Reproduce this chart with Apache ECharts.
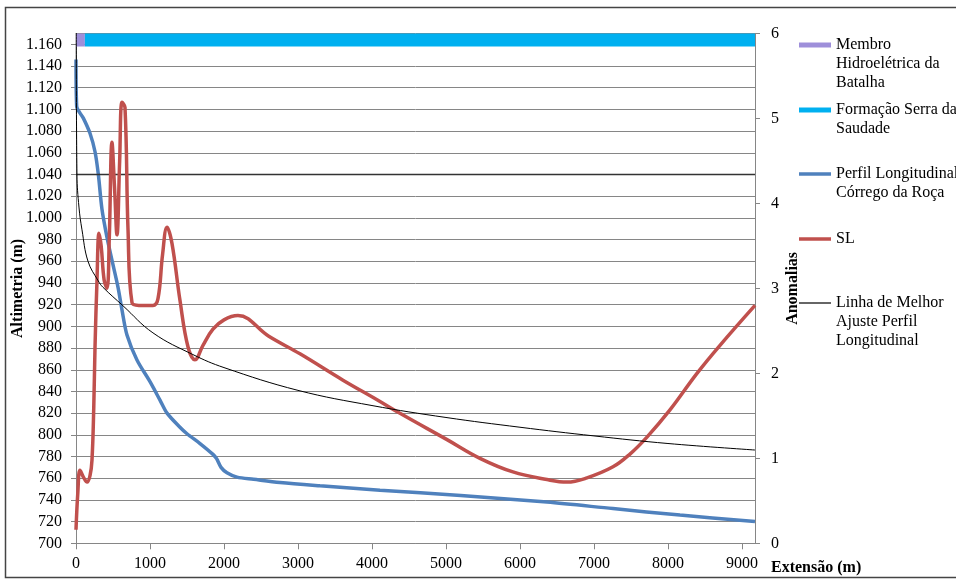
<!DOCTYPE html>
<html>
<head>
<meta charset="utf-8">
<script src="https://cdn.jsdelivr.net/npm/echarts@6/dist/echarts.min.js"></script>
<style>
  html, body { margin: 0; padding: 0; background: #fff; }
  #chart { width: 956px; height: 579px; }
</style>
</head>
<body>
<div id="chart"></div>
<script>
// Distance along the stream (m) and altitude (m) of the longitudinal profile
const perfilX = [0, 9, 99, 189, 257, 302, 351, 419, 486, 568, 622, 689, 824, 1000, 1135, 1230, 1405, 1500, 1676, 1851, 1900, 1960, 2040, 2176, 2400, 2757, 3297, 4108, 5200, 6365, 7257, 8162, 9176];
const perfilY = [1146, 1103, 1092, 1078, 1061, 1040, 1008, 982, 961, 936, 915, 892, 869, 849, 832, 820, 807, 801, 792, 782, 778, 770, 765, 761, 759, 756, 753, 749, 744, 738, 732, 726, 720];

// SL index (anomalies, right axis)
const slX = [0, 25, 54, 100, 149, 190, 216, 240, 257, 284, 311, 340, 380, 419, 450, 486, 520, 554, 590, 622, 662, 703, 757, 850, 1040, 1108, 1170, 1230, 1297, 1405, 1514, 1608, 1716, 1851, 2000, 2189, 2600, 3027, 3608, 4068, 4378, 5014, 5459, 5905, 6365, 6635, 6905, 7257, 7486, 7716, 8027, 8392, 8703, 9176];
const slY = [0.16, 0.6, 0.86, 0.78, 0.72, 0.8, 0.98, 1.6, 2.31, 3.1, 3.65, 3.5, 3.1, 3.0, 3.6, 4.72, 4.2, 3.63, 4.5, 5.19, 5.13, 3.69, 2.83, 2.8, 2.8, 2.88, 3.4, 3.72, 3.53, 2.86, 2.31, 2.16, 2.33, 2.52, 2.63, 2.68, 2.44, 2.23, 1.92, 1.69, 1.53, 1.22, 1.0, 0.84, 0.75, 0.72, 0.77, 0.9, 1.05, 1.25, 1.57, 2.0, 2.33, 2.8];

// Best-fit line of the longitudinal profile
const ajusteX = [3, 13, 40, 81, 162, 300, 365, 635, 1040, 1580, 2000, 3000, 4000, 5000, 6000, 7000, 8000, 9176];
const ajusteY = [1175, 1040, 1010, 989, 960, 942, 936, 919, 894, 874, 862, 841, 827, 816, 807, 799, 792, 786];

// Geological units shown as a band along the top
const membroX = [0, 120];
const formacaoX = [120, 9176];
const unidadeY = 1164;

// Axis ranges and tick steps
const xMax = 9176, xStep = 1000;
const altMin = 700, altMax = 1170, altStep = 20;
const anomMin = 0, anomMax = 6, anomStep = 1;
const marcoAltitude = 1040;

const names = {
  membro: 'Membro\nHidroelétrica da\nBatalha',
  formacao: 'Formação Serra da\nSaudade',
  perfil: 'Perfil Longitudinal\nCórrego da Roça',
  sl: 'SL',
  ajuste: 'Linha de Melhor\nAjuste Perfil\nLongitudinal'
};

const zip = (xs, ys) => xs.map((x, i) => [x, ys[i]]);
const serif = '"Liberation Serif", "DejaVu Serif", serif';
const gray = '#868686';

function fmtAlt(v) {
  if (v >= 1000) {
    const r = String(v % 1000).padStart(3, '0');
    return Math.floor(v / 1000) + '.' + r;
  }
  return String(v);
}

// One legend block per series, the key aligned with the first text line
function legendAt(name, symbolY, h) {
  const extra = name.split('\n').length - 1;
  return {
    data: [name],
    orient: 'vertical',
    left: 799,
    top: symbolY - 9.5 - 19 * extra,
    padding: 0,
    icon: 'rect',
    itemWidth: 32,
    itemHeight: h,
    selectedMode: false,
    formatter: n => '\n'.repeat(extra) + n,
    textStyle: {
      fontFamily: serif,
      fontSize: 16,
      lineHeight: 19,
      color: '#000'
    }
  };
}

const chart = echarts.init(document.getElementById('chart'), null, { renderer: 'canvas' });

chart.setOption({
  animation: false,
  backgroundColor: '#fff',
  textStyle: { fontFamily: serif },
  graphic: [{
    type: 'rect',
    shape: { x: 5.5, y: 7.5, width: 1000, height: 570 },
    style: { fill: 'none', stroke: '#444', lineWidth: 1.5 },
    silent: true,
    z: 0
  }],
  grid: {
    left: 76, right: 201, top: 33.5, bottom: 35.7,
    containLabel: false, outerBoundsMode: 'none'
  },
  legend: [
    legendAt(names.membro, 45, 5),
    legendAt(names.formacao, 110, 5),
    legendAt(names.perfil, 174, 3.5),
    legendAt(names.sl, 239, 3.5),
    legendAt(names.ajuste, 303, 1.2)
  ],
  xAxis: {
    type: 'value',
    min: 0,
    max: xMax,
    interval: xStep,
    name: 'Extensão (m)',
    nameLocation: 'end',
    nameGap: 16,
    nameTextStyle: {
      fontFamily: serif, fontSize: 16, fontWeight: 'bold', color: '#000',
      align: 'left', verticalAlign: 'top', padding: [17, 0, 0, 0]
    },
    axisLine: { show: true, lineStyle: { color: gray, width: 1 } },
    axisTick: { show: true, length: 6, lineStyle: { color: gray } },
    axisLabel: {
      fontFamily: serif, fontSize: 16, color: '#000', margin: 12,
      showMaxLabel: false, formatter: v => String(v)
    },
    splitLine: { show: false }
  },
  yAxis: [{
    type: 'value',
    position: 'left',
    min: altMin,
    max: altMax,
    interval: altStep,
    name: 'Altimetria (m)',
    nameLocation: 'middle',
    nameRotate: 90,
    nameGap: 50,
    nameMoveOverlap: false,
    nameTextStyle: { fontFamily: serif, fontSize: 16, fontWeight: 'bold', color: '#000' },
    axisLine: { show: true, lineStyle: { color: gray, width: 1 } },
    axisTick: { show: true, length: 5, lineStyle: { color: gray } },
    axisLabel: {
      fontFamily: serif, fontSize: 16, color: '#000', margin: 14,
      showMaxLabel: false, formatter: fmtAlt
    },
    splitLine: { show: true, lineStyle: { color: gray, width: 1 } }
  }, {
    type: 'value',
    position: 'right',
    min: anomMin,
    max: anomMax,
    interval: anomStep,
    name: 'Anomalias',
    nameLocation: 'middle',
    nameRotate: 90,
    nameGap: 30,
    nameMoveOverlap: false,
    nameTextStyle: { fontFamily: serif, fontSize: 16, fontWeight: 'bold', color: '#000' },
    axisLine: { show: true, lineStyle: { color: gray, width: 1 } },
    axisTick: { show: true, length: 5, lineStyle: { color: gray } },
    axisLabel: { fontFamily: serif, fontSize: 16, color: '#000', margin: 16 },
    splitLine: { show: false }
  }],
  series: [{
    name: names.membro,
    type: 'line',
    yAxisIndex: 0,
    data: membroX.map(x => [x, unidadeY]),
    symbol: 'none',
    color: '#9E8FDA',
    lineStyle: { width: 13, color: '#9E8FDA', cap: 'butt' },
    z: 3
  }, {
    name: names.formacao,
    type: 'line',
    yAxisIndex: 0,
    data: formacaoX.map(x => [x, unidadeY]),
    symbol: 'none',
    color: '#00B0F0',
    lineStyle: { width: 13, color: '#00B0F0', cap: 'butt' },
    z: 3
  }, {
    name: names.perfil,
    type: 'line',
    yAxisIndex: 0,
    data: zip(perfilX, perfilY),
    symbol: 'none',
    smooth: 0.3,
    color: '#4F81BD',
    lineStyle: { width: 3.5, color: '#4F81BD' },
    markLine: {
      silent: true,
      symbol: 'none',
      label: { show: false },
      lineStyle: { color: '#333', width: 1.3, type: 'solid' },
      data: [{ yAxis: marcoAltitude }]
    },
    z: 4
  }, {
    name: names.sl,
    type: 'line',
    yAxisIndex: 1,
    data: zip(slX, slY),
    symbol: 'none',
    smooth: 0.4,
    color: '#C0504D',
    lineStyle: { width: 3.5, color: '#C0504D' },
    z: 5
  }, {
    name: names.ajuste,
    type: 'line',
    yAxisIndex: 0,
    data: zip(ajusteX, ajusteY),
    symbol: 'none',
    smooth: 0.4,
    color: '#000',
    lineStyle: { width: 1, color: '#000' },
    z: 6
  }]
});
</script>
</body>
</html>
